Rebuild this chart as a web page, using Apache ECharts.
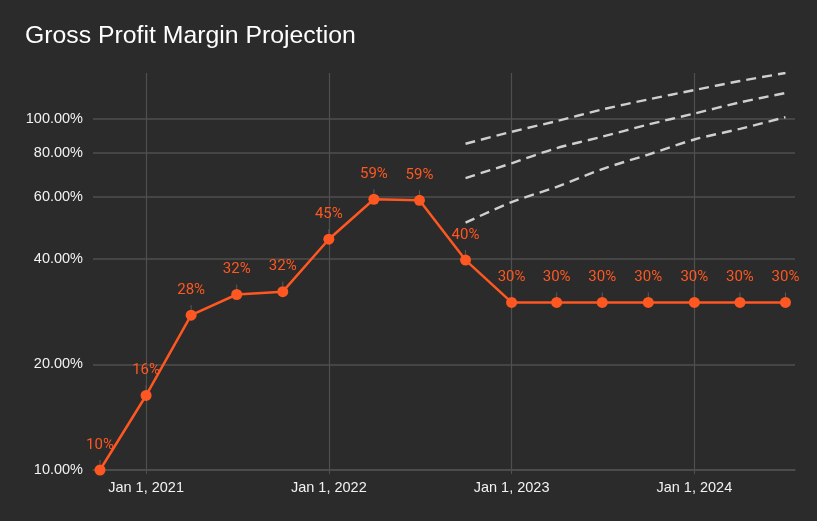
<!DOCTYPE html>
<html>
<head>
<meta charset="utf-8">
<script src="https://cdn.jsdelivr.net/npm/echarts@6/dist/echarts.min.js"></script>
<style>
html,body{margin:0;padding:0;background:#2a2b2a;}
#chart{width:817px;height:521px;}
</style>
</head>
<body>
<div id="chart"></div>
<script>
// ---- data ----
const titleText = 'Gross Profit Margin Projection';
const quarterDates = ['2020-10-01','2021-01-01','2021-04-01','2021-07-01','2021-10-01','2022-01-01','2022-04-01','2022-07-01',
  '2022-10-01','2023-01-01','2023-04-01','2023-07-01','2023-10-01','2024-01-01','2024-04-01','2024-07-01'];
const marginValues = [0.100, 0.163, 0.276, 0.316, 0.322, 0.454, 0.590, 0.586,
  0.396, 0.300, 0.300, 0.300, 0.300, 0.300, 0.300, 0.300];
const projectionDates = ['2022-10-01','2023-01-01','2023-04-01','2023-07-01','2023-10-01','2024-01-01','2024-04-01','2024-07-01'];
const projectionHigh = [0.849, 0.918, 0.985, 1.063, 1.135, 1.207, 1.281, 1.350];
const projectionMid  = [0.678, 0.747, 0.825, 0.889, 0.963, 1.035, 1.113, 1.184];
const projectionLow  = [0.506, 0.579, 0.640, 0.719, 0.791, 0.873, 0.936, 1.011];
const yTickValues = [0.10, 0.20, 0.40, 0.60, 0.80, 1.00];
const monthNames = ['Jan','Feb','Mar','Apr','May','Jun','Jul','Aug','Sep','Oct','Nov','Dec'];

function toTs(s){ const p = s.split('-').map(Number); return new Date(p[0], p[1]-1, p[2]).getTime(); }
function pairs(dates, vals){ return dates.map((d,i)=>[toTs(d), vals[i]]); }

const chart = echarts.init(document.getElementById('chart'), null, {renderer:'canvas'});
const gridColor = '#4f4f4f';
const orange = '#ff5722';
const dashStyle = {color:'#cfcfcf', width:2.4, type:[10,6]};
const YEAR = 365 * 24 * 3600 * 1000;

chart.setOption({
  backgroundColor: '#2a2b2a',
  animation: false,
  title: {
    text: titleText, left: 25, top: 24, padding: 0,
    textStyle: {color:'#ffffff', fontSize:24.8, fontWeight:'normal', fontFamily:'Liberation Sans, Arial, sans-serif'}
  },
  grid: {left: 93, right: 22, top: 73, bottom: 51},
  xAxis: {
    type: 'time',
    min: toTs('2020-09-17'),
    max: toTs('2024-07-20'),
    minInterval: YEAR,
    axisLine: {show:true, lineStyle:{color:gridColor, width:1.5}},
    axisTick: {show:true, length:4, lineStyle:{color:gridColor}},
    splitLine: {show:true, showMinLine:false, showMaxLine:false, lineStyle:{color:gridColor, width:1.2}},
    axisLabel: {
      color:'#f2f2f2', fontSize:14.5, margin:10, fontFamily:'Liberation Sans, Arial, sans-serif',
      showMinLabel:false, showMaxLabel:false,
      formatter: function(v){ const d = new Date(v); return monthNames[d.getMonth()] + ' ' + d.getDate() + ', ' + d.getFullYear(); }
    }
  },
  yAxis: {
    type: 'log',
    logBase: 10,
    min: 0.1,
    max: 1.35,
    axisLine: {show:false},
    axisTick: {show:false, customValues: yTickValues},
    splitLine: {show:true, lineStyle:{color:gridColor, width:1.5}},
    axisLabel: {
      color:'#f2f2f2', fontSize:14.5, margin:10, fontFamily:'Liberation Sans, Arial, sans-serif',
      customValues: yTickValues,
      formatter: function(v){ return (v*100).toFixed(2) + '%'; }
    }
  },
  series: [
    {type:'line', data: pairs(projectionDates, projectionHigh), showSymbol:false, smooth:0.3, lineStyle: dashStyle, z:1, silent:true},
    {type:'line', data: pairs(projectionDates, projectionMid), showSymbol:false, smooth:0.3, lineStyle: dashStyle, z:1, silent:true},
    {type:'line', data: pairs(projectionDates, projectionLow), showSymbol:false, smooth:0.3, lineStyle: dashStyle, z:1, silent:true},
    {
      type:'line', data: pairs(quarterDates, marginValues),
      symbol:'circle', symbolSize:11, z:3,
      itemStyle:{color:orange},
      lineStyle:{color:orange, width:2.5},
      label:{
        show:true, position:'top', distance:12, color:orange, fontSize:15,
        fontFamily:'Roboto, sans-serif',
        formatter: function(p){ return Math.round(p.value[1]*100) + '%'; }
      },
      labelLine:{show:true, lineStyle:{color:'#5a5a5a', width:1}}
    }
  ]
});
</script>
</body>
</html>
